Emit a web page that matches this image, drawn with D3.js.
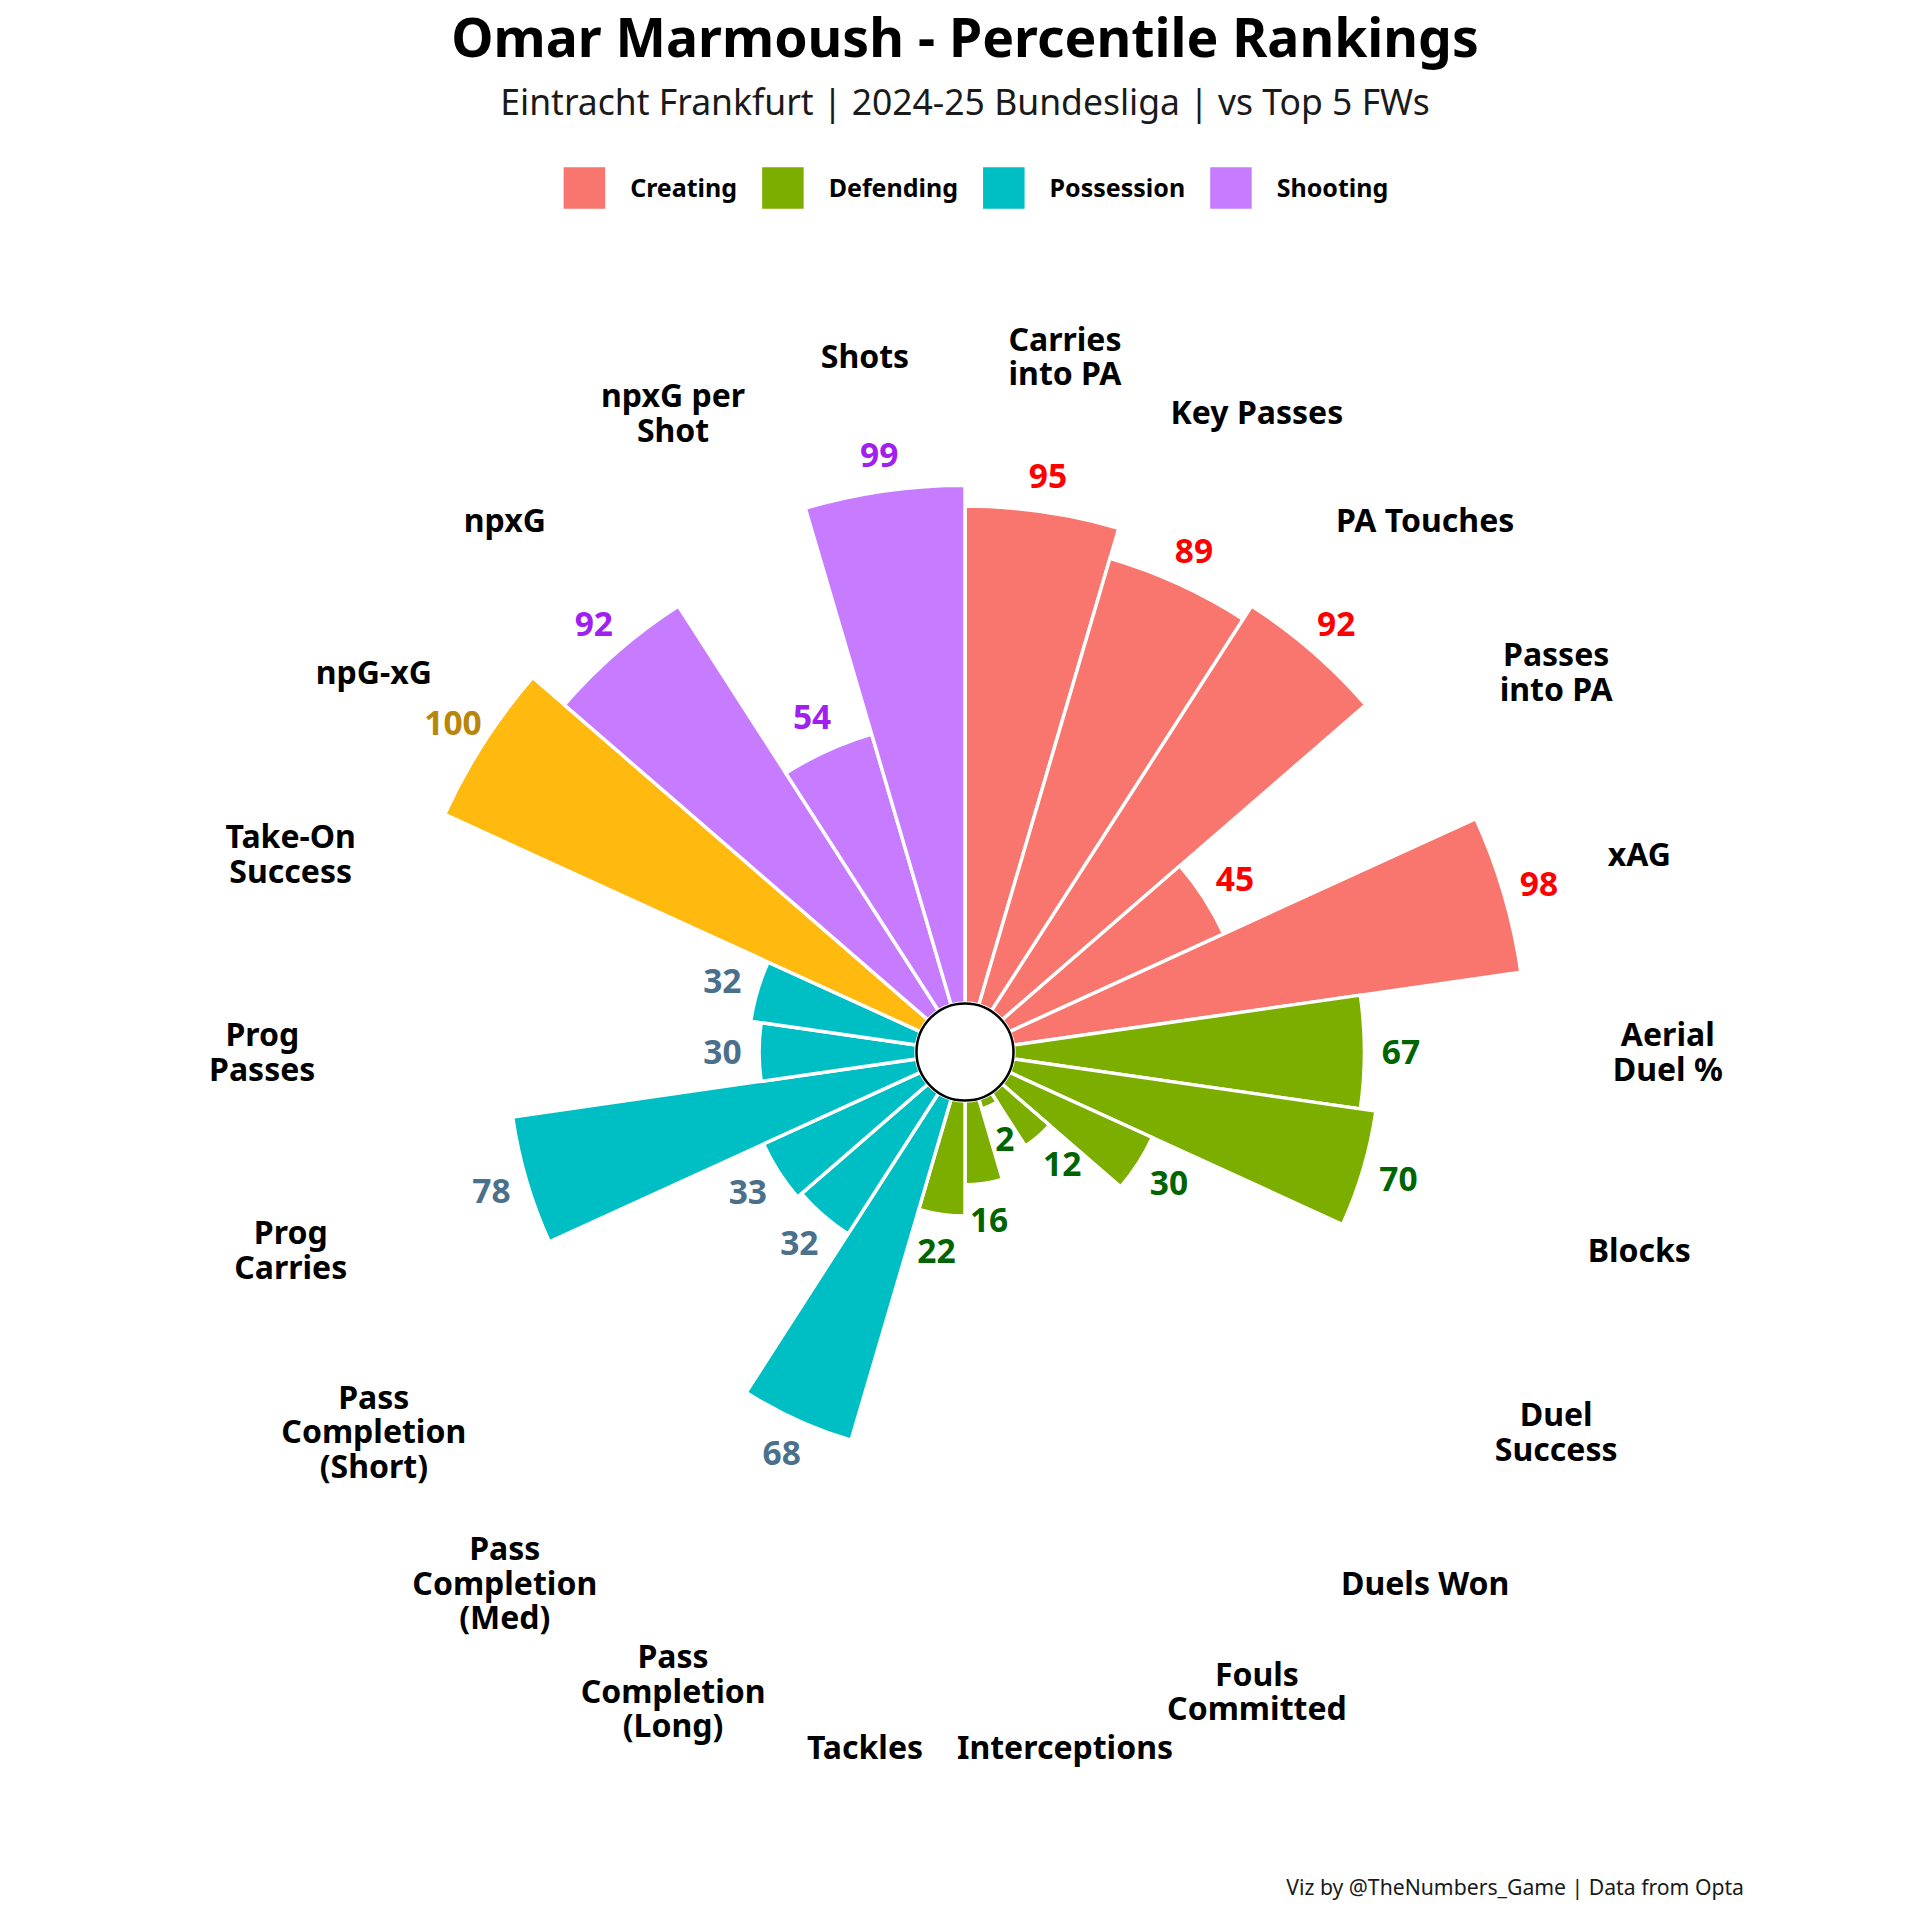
<!DOCTYPE html>
<html>
<head>
<meta charset="utf-8">
<script src="https://cdn.jsdelivr.net/npm/d3@7"></script>
<style>
  body { margin: 0; background: #fff; }
  text { font-family: "Noto Sans", "Open Sans", sans-serif; }
</style>
</head>
<body>
<div id="chart"></div>
<script>
// percentile data, clockwise from 12 o'clock
const metrics = [
  'Carries\ninto PA', 'Key Passes', 'PA Touches', 'Passes\ninto PA', 'xAG',
  'Aerial\nDuel %', 'Blocks', 'Duel\nSuccess', 'Duels Won', 'Fouls\nCommitted', 'Interceptions', 'Tackles',
  'Pass\nCompletion\n(Long)', 'Pass\nCompletion\n(Med)', 'Pass\nCompletion\n(Short)', 'Prog\nCarries', 'Prog\nPasses', 'Take-On\nSuccess',
  'npG-xG', 'npxG', 'npxG per\nShot', 'Shots'
];
const groups = [
  'Creating', 'Creating', 'Creating', 'Creating', 'Creating',
  'Defending', 'Defending', 'Defending', 'Defending', 'Defending', 'Defending', 'Defending',
  'Possession', 'Possession', 'Possession', 'Possession', 'Possession', 'Possession',
  'Shooting', 'Shooting', 'Shooting', 'Shooting'
];
const percentiles = [95, 89, 92, 45, 98, 67, 70, 30, 12, 2, 16, 22, 68, 32, 33, 78, 30, 32, 100, 92, 54, 99];
const legendGroups = ['Creating', 'Defending', 'Possession', 'Shooting'];

const fillColours = ['#F8766D', '#7CAE00', '#00BFC4', '#C77CFF'];
const textColours = ['#FF0000', '#006400', '#4A708B', '#A020F0'];
const maxFill = '#FFB90F';
const maxText = '#B8860B';

const W = 1920, H = 1920;
const cx = 965, cy = 1052;

const svg = d3.select('#chart').append('svg')
  .attr('width', W)
  .attr('height', H)
  .attr('viewBox', `0 0 ${W} ${H}`);

svg.append('rect').attr('width', W).attr('height', H).attr('fill', '#fff');

const fill = d3.scaleOrdinal().domain(legendGroups).range(fillColours);
const ink = d3.scaleOrdinal().domain(legendGroups).range(textColours);

const angle = d3.scaleBand().domain(metrics).range([0, 2 * Math.PI]).padding(0);
const radius = d3.scaleLinear().domain([0, 100]).range([49, 572]);

const data = metrics.map((m, i) => ({ metric: m, group: groups[i], value: percentiles[i] }));

const plot = svg.append('g').attr('transform', `translate(${cx},${cy})`);

const arc = d3.arc()
  .innerRadius(radius(0))
  .outerRadius(d => radius(d.value))
  .startAngle(d => angle(d.metric))
  .endAngle(d => angle(d.metric) + angle.bandwidth());

plot.selectAll('path.bar')
  .data(data)
  .enter()
  .append('path')
  .attr('class', 'bar')
  .attr('d', arc)
  .attr('fill', d => d.value === 100 ? maxFill : fill(d.group))
  .attr('stroke', '#fff')
  .attr('stroke-width', 3.4);

// centre hole
plot.append('circle')
  .attr('r', radius(0) - 0.5)
  .attr('fill', '#fff')
  .attr('stroke', '#000')
  .attr('stroke-width', 2.5);

const mid = d => angle(d.metric) + angle.bandwidth() / 2;
const px = (a, r) => r * Math.sin(a);
const py = (a, r) => -r * Math.cos(a);

// value labels
plot.selectAll('text.value')
  .data(data)
  .enter()
  .append('text')
  .attr('class', 'value')
  .attr('x', d => px(mid(d), radius(d.value + 7)))
  .attr('y', d => py(mid(d), radius(d.value + 7)))
  .attr('dy', '0.36em')
  .attr('text-anchor', 'middle')
  .style('font-size', '33.5px')
  .style('font-weight', 'bold')
  .attr('fill', d => d.value === 100 ? maxText : ink(d.group))
  .text(d => d.value);

// metric labels
const lineH = 34.5;
const labels = plot.selectAll('text.metric')
  .data(data)
  .enter()
  .append('text')
  .attr('class', 'metric')
  .attr('text-anchor', 'middle')
  .style('font-size', '32px')
  .style('font-weight', 'bold')
  .attr('fill', '#000')
  .attr('transform', d => `translate(${px(mid(d), radius(125))},${py(mid(d), radius(125))})`);

labels.each(function(d) {
  const lines = d.metric.split('\n');
  const t = d3.select(this);
  lines.forEach((ln, k) => {
    t.append('tspan')
      .attr('x', 0)
      .attr('y', (k - (lines.length - 1) / 2) * lineH)
      .attr('dy', '0.36em')
      .text(ln);
  });
});

// title block
svg.append('text')
  .attr('x', cx).attr('y', 57)
  .attr('text-anchor', 'middle')
  .style('font-size', '53.5px')
  .style('font-weight', 'bold')
  .attr('fill', '#000')
  .text('Omar Marmoush - Percentile Rankings');

svg.append('text')
  .attr('x', cx).attr('y', 115)
  .attr('text-anchor', 'middle')
  .style('font-size', '35.5px')
  .attr('fill', '#1a1a1a')
  .text('Eintracht Frankfurt | 2024-25 Bundesliga | vs Top 5 FWs');

// legend
const key = 41.5, keyGap = 25, itemGap = 25, legendY = 188;
const legend = svg.append('g');
let lx = 0;
legendGroups.forEach(g => {
  const item = legend.append('g').attr('transform', `translate(${lx},0)`);
  item.append('rect')
    .attr('x', 0).attr('y', legendY - key / 2)
    .attr('width', key).attr('height', key)
    .attr('fill', fill(g));
  const t = item.append('text')
    .attr('x', key + keyGap).attr('y', legendY)
    .attr('dy', '0.36em')
    .style('font-size', '25px')
    .style('font-weight', 'bold')
    .attr('fill', '#000')
    .text(g);
  lx += key + keyGap + t.node().getComputedTextLength() + itemGap;
});
const legendW = lx - itemGap;
legend.attr('transform', `translate(${976 - legendW / 2},0)`);

// caption
svg.append('text')
  .attr('x', 1744).attr('y', 1895)
  .attr('text-anchor', 'end')
  .style('font-size', '21.2px')
  .attr('fill', '#1a1a1a')
  .text('Viz by @TheNumbers_Game | Data from Opta');
</script>
</body>
</html>
